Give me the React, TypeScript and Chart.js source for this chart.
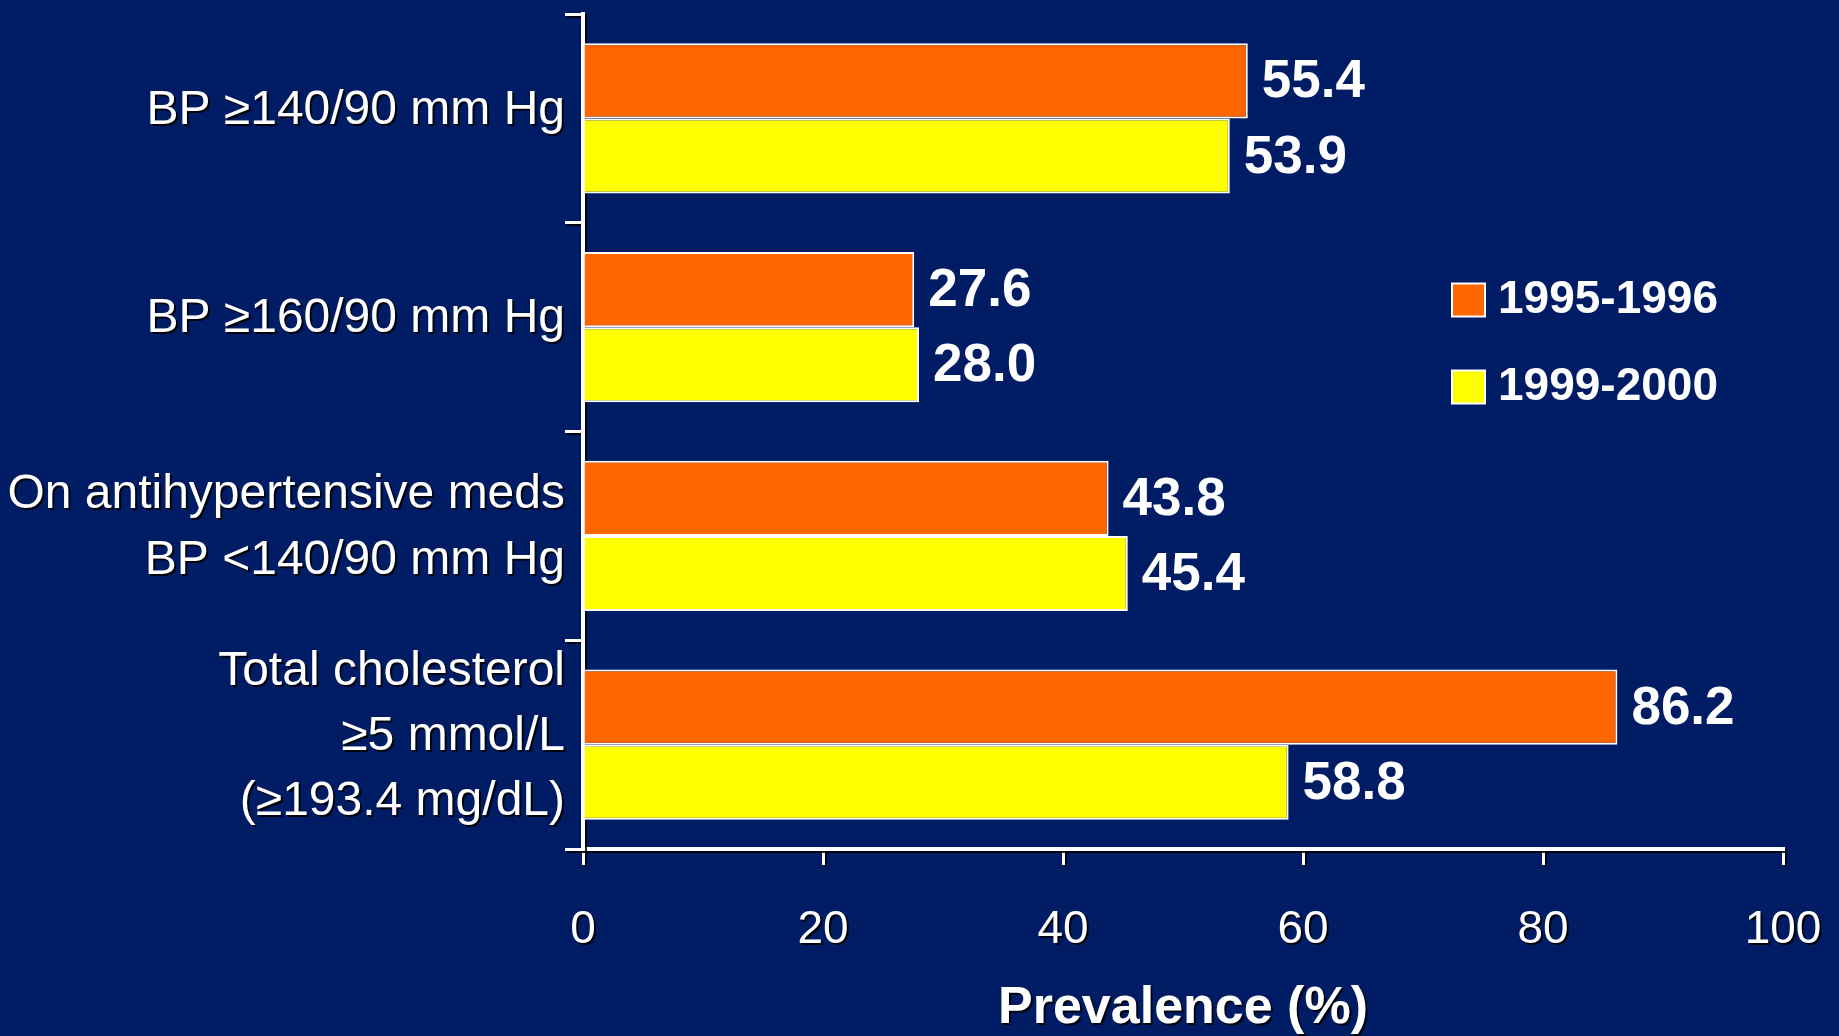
import React, { useEffect, useRef } from "react";
import { Chart, registerables } from "chart.js";

Chart.register(...registerables);

const categories: (string | string[])[] = [
  "BP \u2265140/90 mm Hg",
  "BP \u2265160/90 mm Hg",
  ["On antihypertensive meds", "BP <140/90 mm Hg"],
  ["Total cholesterol", "\u22655 mmol/L", "(\u2265193.4 mg/dL)"],
];
const seriesLabels = ["1995-1996", "1999-2000"];
const values1995 = [55.4, 27.6, 43.8, 86.2];
const values1999 = [53.9, 28.0, 45.4, 58.8];
const xMin = 0;
const xMax = 100;
const xStep = 20;
const axisTitle = "Prevalence (%)";

const BG = "#001C64";
const ORANGE = "#FF6600";
const YELLOW = "#FFFF00";
const FONT = "'Liberation Sans', Arial, Helvetica, sans-serif";

const shadowPlugin = {
  id: "textShadow",
  beforeDraw(chart: any) {
    const ctx = chart.ctx;
    ctx.save();
    ctx.shadowColor = "rgba(0,0,0,0.85)";
    ctx.shadowOffsetX = 2;
    ctx.shadowOffsetY = 2;
    ctx.shadowBlur = 0;
  },
  beforeDatasetsDraw(chart: any) {
    chart.ctx.restore();
  },
};

const valueLabelPlugin = {
  id: "valueLabels",
  afterDatasetsDraw(chart: any) {
    const ctx = chart.ctx;
    ctx.save();
    ctx.fillStyle = "#FFFFFF";
    ctx.font = `bold 53px ${FONT}`;
    ctx.textAlign = "left";
    ctx.textBaseline = "middle";
    chart.data.datasets.forEach((ds: any, di: number) => {
      const meta = chart.getDatasetMeta(di);
      meta.data.forEach((el: any, i: number) => {
        const v = ds.data[i] as number;
        ctx.fillText(v.toFixed(1), el.x + 14, el.y + 2);
      });
    });
    ctx.restore();
  },
};

const legendPlugin = {
  id: "customLegend",
  afterDatasetsDraw(chart: any) {
    const ctx = chart.ctx;
    const left = 1452;
    const centers = [300, 387];
    const box = 33;
    ctx.save();
    chart.data.datasets.forEach((ds: any, di: number) => {
      const cy = centers[di];
      ctx.fillStyle = ds.backgroundColor;
      ctx.fillRect(left, cy - box / 2, box, box);
      ctx.strokeStyle = "#FFFFFF";
      ctx.lineWidth = 2;
      ctx.strokeRect(left, cy - box / 2, box, box);
      ctx.fillStyle = "#FFFFFF";
      ctx.font = `bold 46px ${FONT}`;
      ctx.textAlign = "left";
      ctx.textBaseline = "middle";
      ctx.fillText(ds.label, left + 46, cy);
    });
    ctx.restore();
  },
};

function zeroPadding(scale: any) {
  scale.paddingTop = 0;
  scale.paddingBottom = 0;
  scale.paddingLeft = 0;
  scale.paddingRight = 0;
}

export default function App() {
  const canvasRef = useRef<HTMLCanvasElement | null>(null);

  useEffect(() => {
    if (!canvasRef.current) return;
    const chart = new Chart(canvasRef.current, {
      type: "bar",
      data: {
        labels: categories,
        datasets: [
          {
            label: seriesLabels[0],
            data: values1995,
            backgroundColor: ORANGE,
            borderColor: "#FFFFFF",
            borderWidth: 2,
            categoryPercentage: 0.72,
            barPercentage: 1.0,
          },
          {
            label: seriesLabels[1],
            data: values1999,
            backgroundColor: YELLOW,
            borderColor: "#FFFFFF",
            borderWidth: 2,
            categoryPercentage: 0.72,
            barPercentage: 1.0,
          },
        ],
      },
      options: {
        indexAxis: "y",
        animation: false,
        responsive: true,
        maintainAspectRatio: false,
        layout: { padding: { left: 0, right: 56, top: 14, bottom: 0 } },
        plugins: {
          legend: { display: false },
          tooltip: { enabled: false },
        },
        scales: {
          x: {
            min: xMin,
            max: xMax,
            ticks: {
              stepSize: xStep,
              color: "#FFFFFF",
              font: { family: FONT, size: 46 },
              padding: 38,
            },
            grid: {
              display: true,
              drawOnChartArea: false,
              drawTicks: true,
              tickLength: 16,
              color: "#FFFFFF",
              lineWidth: 3,
            },
            border: { display: true, color: "#FFFFFF", width: 4 },
            title: {
              display: true,
              text: axisTitle,
              color: "#FFFFFF",
              font: { family: FONT, size: 52, weight: "bold", lineHeight: 1.0 },
              padding: { top: 0, bottom: 1 },
            },
            afterFit(scale: any) {
              scale.height = 187;
              zeroPadding(scale);
            },
          },
          y: {
            ticks: {
              color: "#FFFFFF",
              font: { family: FONT, size: 48, lineHeight: 1.36 },
              padding: 0,
              labelOffset: -8,
              autoSkip: false,
            },
            grid: {
              display: true,
              offset: true,
              drawOnChartArea: false,
              drawTicks: true,
              tickLength: 18,
              color: "#FFFFFF",
              lineWidth: 3,
            },
            border: { display: true, color: "#FFFFFF", width: 4 },
            afterFit(scale: any) {
              scale.width = 583;
              zeroPadding(scale);
            },
          },
        },
      } as any,
      plugins: [shadowPlugin, valueLabelPlugin, legendPlugin],
    });
    return () => chart.destroy();
  }, []);

  return (
    <div
      style={{
        position: "absolute",
        left: 0,
        top: 0,
        width: 1839,
        height: 1036,
        background: BG,
      }}
    >
      <canvas ref={canvasRef} />
    </div>
  );
}
